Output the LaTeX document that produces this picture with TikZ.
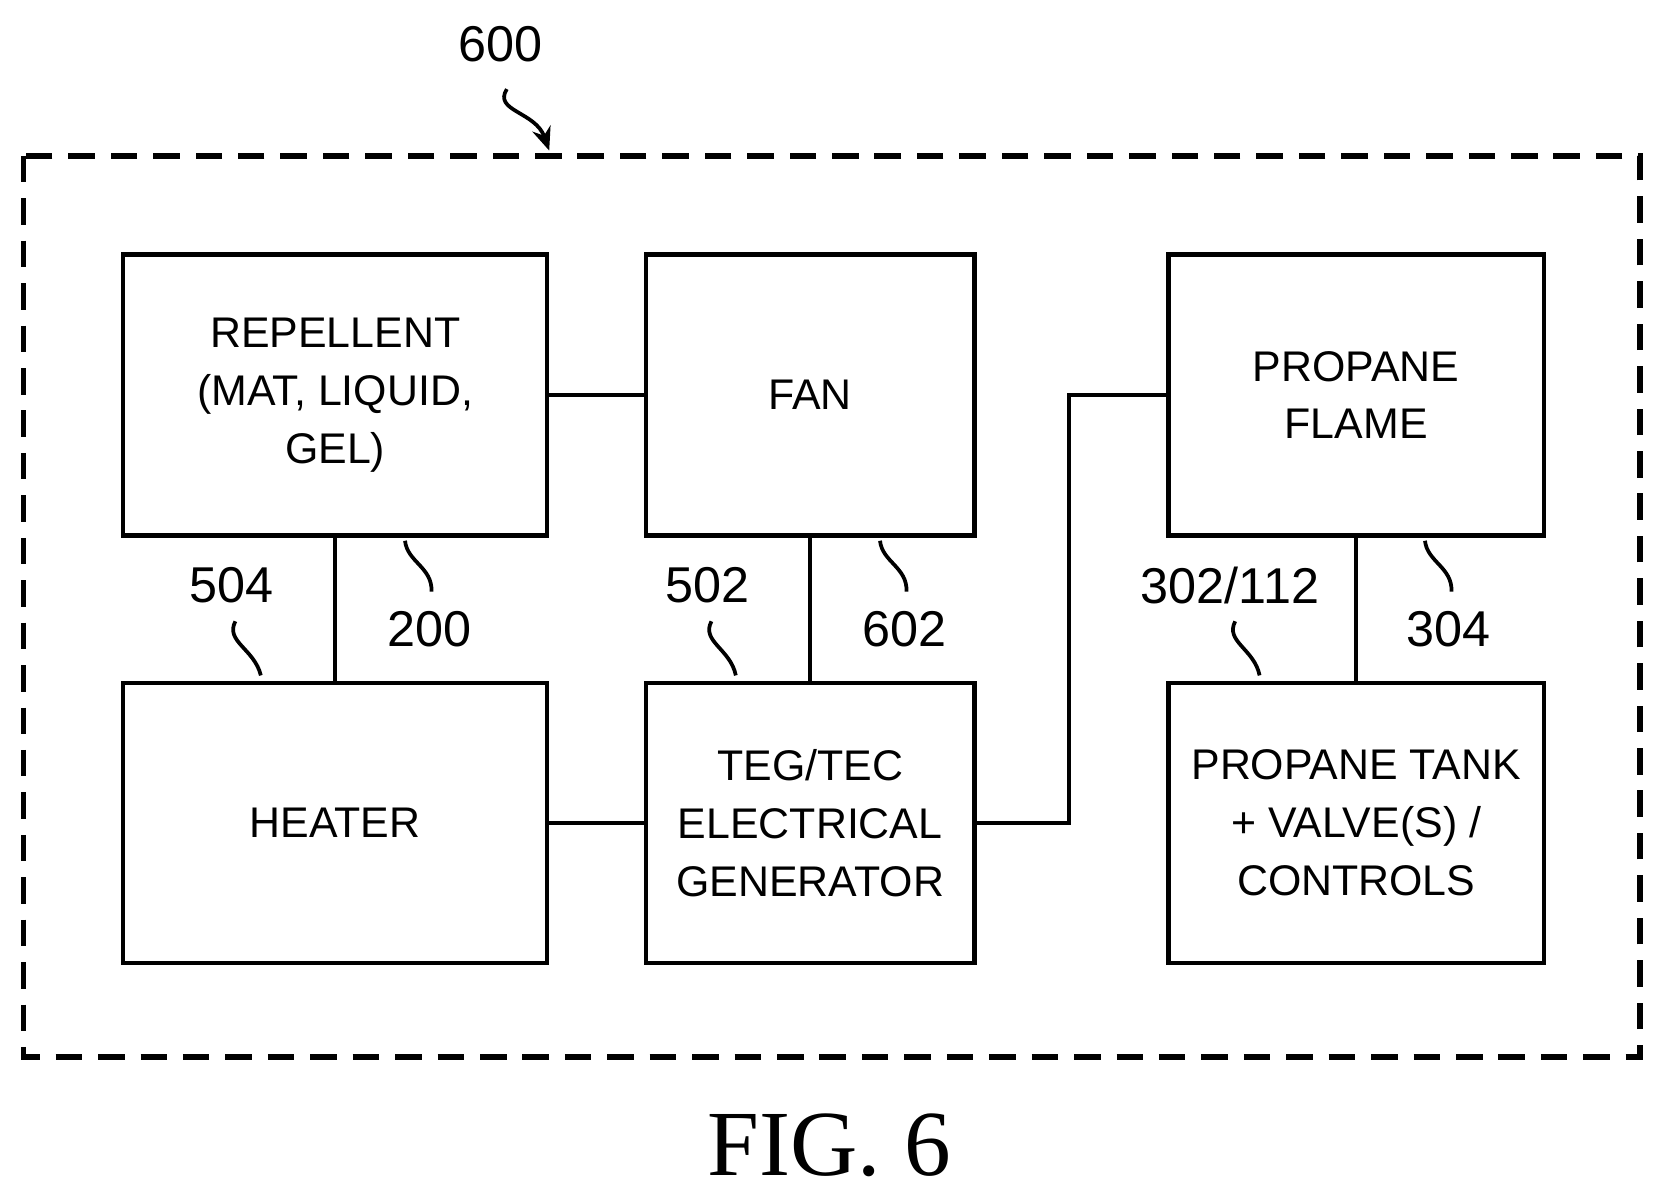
\documentclass[tikz,border=0pt]{standalone}
\usepackage{fontspec}
\setmainfont{Liberation Sans}
\newfontfamily\figfont{Liberation Serif}
\usetikzlibrary{arrows.meta}
\begin{document}
\begin{tikzpicture}[x=0.01cm,y=-0.01cm,
  box/.style={draw,line width=1.2pt,minimum width=#1,inner sep=0pt,align=center,font=\fontsize{11.5}{15.5}\selectfont,anchor=north west},
  lab/.style={font=\fontsize{13.5}{16}\selectfont},
  conn/.style={line width=1.1pt},
  lead/.style={line width=1pt}]
\useasboundingbox (0,0) rectangle (1560,1123);
\draw[line width=1.5pt,dash pattern=on 0.25cm off 0.15cm] (22,147) rectangle (1547,997);
\node[box=400*0.01cm,minimum height=265*0.01cm] (rep) at (114,238) {REPELLENT\\(MAT, LIQUID,\\GEL)};
\node[box=310*0.01cm,minimum height=265*0.01cm] (fan) at (607,238) {FAN};
\node[box=354*0.01cm,minimum height=265*0.01cm] (flame) at (1100,238) {PROPANE\\FLAME};
\node[box=400*0.01cm,minimum height=264*0.01cm] (heat) at (114,642) {HEATER};
\node[box=310*0.01cm,minimum height=264*0.01cm] (teg) at (607,642) {TEG/TEC\\ELECTRICAL\\GENERATOR};
\node[box=354*0.01cm,minimum height=264*0.01cm] (tank) at (1100,642) {PROPANE TANK\\+ VALVE(S) /\\CONTROLS};
\draw[conn] (rep.east) -- (fan.west);
\draw[conn] (rep.south) -- (heat.north);
\draw[conn] (fan.south) -- (teg.north);
\draw[conn] (flame.south) -- (tank.north);
\draw[conn] (heat.east) -- (teg.west);
\coordinate (j) at (1008,773);
\draw[conn] (teg.east) -- (teg.east -| j) |- (flame.west);
\node[lab] (l504) at (218,552) {504};
\node[lab] (l200) at (405,593) {200};
\node[lab] (l502) at (667,552) {502};
\node[lab] (l602) at (853,593) {602};
\node[lab] (l302) at (1160,552) {302/112};
\node[lab] (l304) at (1366,593) {304};
\node[lab] (l600) at (472,42) {600};
\node[font=\figfont\fontsize{25}{30}\selectfont] (fig) at (782,1080) {FIG. 6};
\draw[lead] (222,586) .. controls (212,605) and (240,612) .. (246,637);
\draw[lead] (382,510) .. controls (384,530) and (408,535) .. (407,558);
\draw[lead] (671,586) .. controls (661,605) and (689,612) .. (694,637);
\draw[lead] (830,510) .. controls (832,530) and (856,535) .. (855,558);
\draw[lead] (1165,586) .. controls (1155,605) and (1183,612) .. (1188,637);
\draw[lead] (1344,510) .. controls (1346,530) and (1370,535) .. (1369,558);
\draw[lead,-{Stealth[length=0.22cm,width=0.18cm]}] (478,84) .. controls (465,105) and (505,105) .. (518,142);
\end{tikzpicture}
\end{document}
